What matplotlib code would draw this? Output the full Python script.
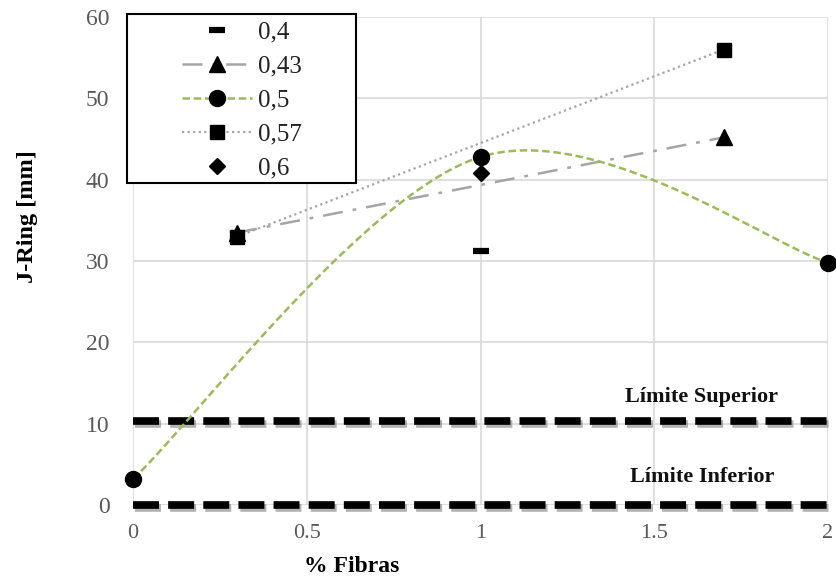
import numpy as np
import matplotlib
matplotlib.use("Agg")
import matplotlib.pyplot as plt
import matplotlib.patheffects as pe
from matplotlib.patches import Rectangle

# ---- data ----
x_04 = [1.0]
y_04 = [31.2]
x_043 = [0.3, 1.7]
y_043 = [33.5, 45.2]
x_05 = [0.0, 1.0, 2.0]
y_05 = [3.2, 42.8, 29.8]
x_057 = [0.3, 1.7]
y_057 = [33.0, 56.0]
x_06 = [1.0]
y_06 = [40.8]
lim_sup = 10.3
lim_inf = 0.0
xticks = [0, 0.5, 1, 1.5, 2]
xticklabels = ["0", "0.5", "1", "1.5", "2"]
yticks = [0, 10, 20, 30, 40, 50, 60]

W, H = 836, 581


def excel_smooth(xs, ys, n=60):
    """Excel-style smoothed line (cubic Bezier with 1/6 tangents)."""
    P = np.column_stack([xs, ys]).astype(float)
    m = len(P)
    out = []
    for i in range(m - 1):
        p0 = P[max(i - 1, 0)]
        p1 = P[i]
        p2 = P[i + 1]
        p3 = P[min(i + 2, m - 1)]
        c1 = p1 + (p2 - p0) / 6.0
        c2 = p2 - (p3 - p1) / 6.0
        t = np.linspace(0, 1, n)[:, None]
        seg = ((1 - t) ** 3) * p1 + 3 * ((1 - t) ** 2) * t * c1 + 3 * (1 - t) * t ** 2 * c2 + t ** 3 * p2
        out.append(seg if i == 0 else seg[1:])
    c = np.vstack(out)
    return c[:, 0], c[:, 1]


fig = plt.figure(figsize=(W / 100, H / 100), dpi=100)
ax = fig.add_axes([133 / W, 1 - 505 / H, (828 - 133) / W, (505 - 17) / H])

ax.set_xlim(0, 2)
ax.set_ylim(0, 60)
ax.set_xticks(xticks)
ax.set_xticklabels(xticklabels)
ax.set_yticks(yticks)
ax.grid(True, color="#D9D9D9", linewidth=1.2)
ax.set_axisbelow(True)
for s in ax.spines.values():
    s.set_visible(False)
ax.tick_params(length=0, labelcolor="#595959")
ax.tick_params(axis="x", labelsize=16, pad=14)
ax.tick_params(axis="y", labelsize=17, pad=17)
for lab in ax.get_xticklabels() + ax.get_yticklabels():
    lab.set_family("Liberation Serif")

# limit lines
shadow = [pe.SimpleLineShadow(offset=(1.5, -2), shadow_color="gray", alpha=0.6), pe.Normal()]
for yl in (lim_sup, lim_inf):
    ax.axhline(yl, color="black", linewidth=5.5, dashes=(3.4, 1.2), solid_capstyle="butt",
               dash_capstyle="butt", path_effects=shadow, clip_on=False, zorder=3)

ax.text(1.637, lim_sup + 3.0, "Límite Superior", ha="center", va="center",
        fontsize=16, fontweight="bold", family="Liberation Serif", color="#111111")
ax.text(1.637, lim_inf + 3.4, "Límite Inferior", ha="center", va="center",
        fontsize=16, fontweight="bold", family="Liberation Serif", color="#111111")

# series
h04, = ax.plot(x_04, y_04, linestyle="none", marker="_", markersize=11, markeredgewidth=4.5,
               color="black", label="0,4", clip_on=False, zorder=5)
h043, = ax.plot(x_043, y_043, color="#A5A5A5", linewidth=1.8, dashes=(8, 4, 1.5, 4),
                marker="^", markersize=11.5, markerfacecolor="black", markeredgecolor="black",
                label="0,43", clip_on=False, zorder=4)
sx, sy = excel_smooth(x_05, y_05)
ax.plot(sx, sy, color="#9BBB59", linewidth=1.8, dashes=(3, 1.5), zorder=4)
ax.plot(x_05, y_05, linestyle="none", marker="o", markersize=11.5, color="black",
        clip_on=False, zorder=5)
h05, = ax.plot([], [], color="#9BBB59", linewidth=1.8, dashes=(3, 1.5), marker="o",
               markersize=11.5, markerfacecolor="black", markeredgecolor="black", label="0,5")
h057, = ax.plot(x_057, y_057, color="#A5A5A5", linewidth=1.6, linestyle=(0, (1, 1.5)),
                marker="s", markersize=10, markerfacecolor="black", markeredgecolor="black",
                label="0,57", clip_on=False, zorder=4)
h06, = ax.plot(x_06, y_06, linestyle="none", marker="D", markersize=8.5, color="black",
               label="0,6", clip_on=False, zorder=5)

# legend frame (drawn separately to get the wide left margin)
frame = Rectangle((127 / W, 1 - 183 / H), (356 - 127) / W, (183 - 14) / H,
                  transform=fig.transFigure, facecolor="white", edgecolor="black",
                  linewidth=1.5, zorder=9)
fig.add_artist(frame)

leg = fig.legend(handles=[h04, h043, h05, h057, h06], loc="upper left",
                 bbox_to_anchor=(182 / W, 1 - 21 / H), frameon=False,
                 borderpad=0, labelspacing=0.46, handlelength=2.8, handletextpad=0.25,
                 borderaxespad=0, prop={"family": "Liberation Serif", "size": 18})
leg.set_zorder(10)
for t in leg.get_texts():
    t.set_color("#222222")

fig.text(352 / W, 1 - 567 / H, "% Fibras", ha="center", va="center",
         fontsize=17, fontweight="bold", family="Liberation Serif")
fig.text(27 / W, 1 - 217 / H, "J-Ring [mm]", ha="center", va="center", rotation=90,
         fontsize=17.5, fontweight="bold", family="Liberation Serif")

fig.savefig("out.png", dpi=100)
